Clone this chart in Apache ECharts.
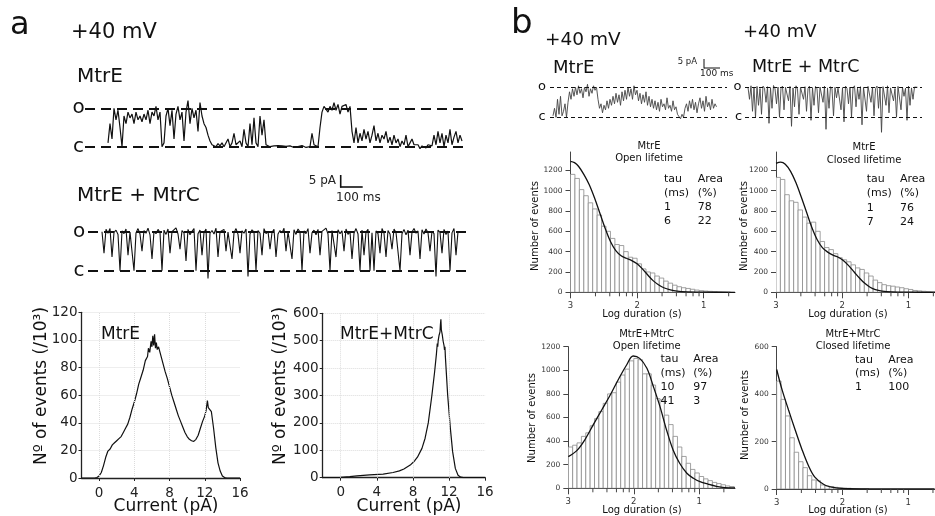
<!DOCTYPE html>
<html><head><meta charset="utf-8">
<script src="https://cdn.jsdelivr.net/npm/echarts@6/dist/echarts.min.js"></script>
<style>html,body{margin:0;padding:0;background:#fff}#c{width:935px;height:516px}</style>
</head><body><div id="c"></div>
<script>
// ---------- DATA ----------
// single-channel traces, % of open level (0 = closed "c", 100 = open "o")
const traceMtrE_a = [10,60,20,100,
70,95,50,0,80, 60,90,75,85,60, 90,70,80,65,85, 70,95,60,90,80, 105,70,90,0,10,
80,100,55,95,20, 85,105,70,90,15, 90,120,60,100,75, 95,40,115,80,60, 50,30,15,5,10,
0,8,2,10,0, 5,20,0,10,35, 5,0,15,0,45, 10,0,60,5,75, 10,0,80,30,70,
5,10,0,5,2, 0,3,-2,2,0, 1,-3,2,0,-2, 2,0,-3,3,0, -2,2,0,35,5,
10,0,50,90,105, 110,90,105,95,115, 95,110,85,105,100, 110,90,105,40,10, 50,10,35,15,45,
20,40,10,30,55, 15,35,10,30,20, 40,10,25,5,30, 10,20,0,15,5, 30,0,10,20,5,
0,5,-5,2,0, -3,5,0,2,30, 5,40,10,35,0, 30,10,45,5,25, 40,10,30,15];
const traceMtrEC_a = [100,45,106,96,108,35,98,104,93,0,
102,95,107,40,99,104,0,97,108,94, 50,103,96,109,92,30,101,95,106,98,
0,104,93,107,45,100,96,110,94,55, 103,97,25,106,92,101,108,0,95,104,
40,98,107,-20,96,103,94,109,35,100, 95,106,50,99,104,30,97,108,93,45,
102,96,107,-15,94,105,99,0,103,96, 40,108,95,101,55,98,106,35,94,103,
97,109,50,100,96,30,105,93,107,99, 0,102,95,108,45,97,104,92,106,40,
101,96,109,94,0,103,98,35,105,95, 102,50,107,93,100,30,96,108,94,0,
104,40,99,106,0,97,0,102,95,45, 108,96,35,103,94,55,107,98,101,0,
95,106,92,104,40,99,108,96,102,30, 105,94,107,97,50,101,95,-15,104,98,
45,106,93,102,0,97,108,40,100,104, 98];
const traceMtrE_b = [5,30,0,60,10,70,5,20,45,0,
50,85,60,95,70,100,75,105,80,95, 65,100,85,110,70,95,80,105,90,100,
60,30,45,15,40,25,55,30,60,40, 70,45,80,50,75,40,85,55,90,60,
100,70,95,60,105,75,90,55,80,45, 75,50,85,40,70,35,60,30,55,25,
50,20,60,35,45,25,65,30,40,20, 55,25,35,10,5,-5,10,0,30,45,
20,55,30,60,25,50,15,45,65,30, 55,20,70,35,50,25,60,30,45,35];
const traceMtrEC_b = [100,60,105,20,98,0,103,40,96,10,
104,97,50,102,-20,99,30,106,95,45, 101,0,97,104,25,100,96,55,103,-30,
98,35,105,94,10,100,97,60,102,20, 96,104,-10,99,40,103,95,15,101,97,
50,104,-40,98,30,102,95,5,100,65, 97,103,25,99,-15,104,96,45,101,0,
98,105,35,97,60,102,-25,100,95,20, 103,98,50,101,5,96,104,30,99,-50,
102,97,40,105,15,98,101,55,96,0, 103,99,25,100,70,97,-10,104,40,98,
60,101,95,100];

// all-points amplitude histograms: [current (pA), events /10^3]
const ampMtrE = [[-2,0],[-0.5,0],[-0.25,0.3],[0,1.5],[0.25,4],[0.5,9],[0.75,15],[1,19.5],[1.25,21],[1.5,24],
[1.75,25.5],[2,27],[2.25,28.5],[2.5,30],[2.75,33],[3,36],[3.25,39],[3.5,44],[3.75,50],[4,55],[4.25,61],
[4.5,68],[4.75,73],[5,78],[5.25,85],[5.5,88],[5.6,94],[5.75,91],[5.9,99],[6,95],[6.1,103],[6.2,96],
[6.3,104],[6.4,94],[6.5,98],[6.6,93],[6.75,95],[7,89],[7.25,83],[7.5,77],[7.75,72],[8,66],[8.25,60],
[8.5,55],[8.75,50],[9,45],[9.25,41],[9.5,37],[9.75,33],[10,30],[10.25,28],[10.5,27],[10.75,26.5],
[11,28],[11.25,31],[11.5,36],[11.75,41],[12,45],[12.15,49],[12.3,56],[12.4,51],[12.6,52],[12.75,48],
[13,36],[13.25,22],[13.5,11],[13.75,5],[14,1.5],[14.25,0.3],[14.5,0],[16,0]];
const ampMtrEC = [[-2,0],[-0.5,0],[0,1],[1,4],[1.8,7],[3.2,10],[4.7,13],[5.8,19],[6.5,25],[7,32],[7.7,46],
[8.2,62],[8.5,75],[9,107],[9.35,144],[9.7,200],[10.1,300],[10.4,385],[10.6,450],[10.7,490],[10.75,478],
[10.8,500],[10.9,520],[11,532],[11.05,560],[11.1,578],[11.15,540],[11.25,522],[11.35,498],[11.45,482],
[11.5,466],[11.55,478],[11.6,440],[11.85,302],[12.15,180],[12.4,95],[12.7,34],[13,9],[13.3,2],[13.6,0],[16,0]];
const ampXTicks = [0,4,8,12,16];

// dwell-time histograms (15 bins per log unit, first bin starts at 3)
const binStart = 3, binWidth = 1/15;
const logTicks = [3,2,1];
const logMinorTicks = [2.625,2.41,2.265,2.16,2.07,1.625,1.41,1.265,1.16,1.07,0.625];
const openMtrE = [1160,1120,1010,950,880,820,760,650,600,530,470,460,400,345,335,280,230,200,190,160,140,110,90,70,55,45,38,30,22,16,12,9,6,4,3,2];
const openMtrEFit = [[3,1288],[2.94,1275],[2.88,1240],[2.8,1160],[2.72,1060],[2.64,930],[2.56,780],[2.48,630],[2.4,500],[2.32,410],[2.24,360],[2.16,335],[2.08,312],[2,280],[1.92,230],[1.84,170],[1.76,115],[1.68,75],[1.6,45],[1.5,24],[1.4,12],[1.25,5],[1,1],[0.53,0]];
const closedMtrE = [1130,1110,960,900,885,810,740,680,690,600,500,440,420,380,340,320,300,270,240,225,190,160,120,95,75,65,60,52,45,35,28,18,14,10,8,6];
const closedMtrEFit = [[3,1268],[2.93,1280],[2.86,1260],[2.78,1190],[2.7,1080],[2.62,940],[2.54,790],[2.46,640],[2.38,520],[2.3,440],[2.22,395],[2.14,365],[2.06,345],[1.98,310],[1.9,260],[1.82,200],[1.74,140],[1.66,88],[1.58,50],[1.5,26],[1.4,12],[1.25,4],[1,1],[0.6,0]];
const openMtrEC = [350,365,385,440,470,530,590,650,720,800,810,900,960,1010,1080,1100,1090,970,970,875,760,750,620,540,440,350,270,212,160,130,100,80,65,50,40,30,20,15];
const openMtrECFit = [[3,268],[2.87,319],[2.75,409],[2.62,537],[2.49,664],[2.36,791],[2.24,918],[2.11,1045],[2.01,1121],[1.91,1101],[1.8,1017],[1.7,861],[1.6,692],[1.5,494],[1.4,325],[1.3,212],[1.19,127],[1.09,85],[0.99,56],[0.86,34],[0.74,17],[0.61,6],[0.455,3]];
const closedMtrEC = [455,378,308,216,155,115,90,56,38,35,17,13,10,7,5,4,3,2,2,1,1];
const closedMtrECFit = [[3,504],[2.92,420],[2.82,333],[2.72,250],[2.62,170],[2.52,100],[2.42,50],[2.27,17],[2.1,5],[1.9,1],[1.5,0],[0.6,0]];
const yTicks1200 = [0,200,400,600,800,1000,1200];
const yTicks600 = [0,200,400,600];

// fitted components tables
const tauOpenMtrE = ['1','6'], areaOpenMtrE = ['78','22'];
const tauClosedMtrE = ['1','7'], areaClosedMtrE = ['76','24'];
const tauOpenMtrEC = ['10','41'], areaOpenMtrEC = ['97','3'];
const tauClosedMtrEC = ['1'], areaClosedMtrEC = ['100'];

// ---------- CHART ----------
const FF = 'DejaVu Sans';
const chart = echarts.init(document.getElementById('c'), null, {renderer:'canvas'});
const G = [];
function T(text, x, y, size, align, extra, color){
  G.push(Object.assign({type:'text', x:x, y:y, silent:true, z:50,
    style:{text:text, fontSize:size, fontFamily:FF, fill:color||'#111',
      align:align||'left', verticalAlign:'middle', textAlign:align||'left', textVerticalAlign:'middle'}}, extra||{}));
}
function L(x1,y1,x2,y2,w){ G.push({type:'line', silent:true, z:50, shape:{x1:x1,y1:y1,x2:x2,y2:y2}, style:{stroke:'#111', lineWidth:w}}); }

// panel a texts
T('a', 10, 26, 32);
T('+40 mV', 71, 33, 21);
T('MtrE', 77, 77, 20);
T('o', 78.5, 108, 20, 'center'); T('c', 78.5, 147, 20, 'center');
T('MtrE + MtrC', 77, 196, 20);
T('o', 79, 232, 20, 'center'); T('c', 79, 271, 20, 'center');
T('5 pA', 336, 181, 12, 'right', null, '#222'); T('100 ms', 336, 198, 12, 'left', null, '#222');
L(340.7,175,340.7,187.5,1.6); L(340,187,362.7,187,1.6);
T('MtrE', 101, 335, 17);
T('MtrE+MtrC', 340, 335, 17);
T('N\u00ba of events (/10\u00b3)', 41.5, 386, 17, 'center', {rotation:Math.PI/2});
T('N\u00ba of events (/10\u00b3)', 280.5, 386, 17, 'center', {rotation:Math.PI/2});
T('Current (pA)', 166, 507, 17, 'center');
T('Current (pA)', 409, 507, 17, 'center');

// panel b texts
T('b', 511, 24, 34);
T('+40 mV', 545, 40, 18.5);
T('+40 mV', 743, 32, 18);
T('MtrE', 553, 68, 18);
T('MtrE + MtrC', 752, 67, 17.5);
T('o', 542, 87, 13, 'center'); T('c', 542, 117, 13, 'center');
T('o', 737.5, 87, 13, 'center'); T('c', 738.5, 117, 13, 'center');
T('5 pA', 697, 62, 8.5, 'right', null, '#222'); T('100 ms', 700, 74, 9, 'left', null, '#222');
L(704,59,704,68.5,1); L(704,68,720,68,1);

function dwellTexts(cx, t1, t2, t1y, t2y, xTau, xArea, rows, taus, areas, yl, xl, xly){
  T(t1, cx, t1y, 10, 'center'); T(t2, cx, t2y, 10, 'center');
  T('tau', xTau, rows[0], 11); T('Area', xArea, rows[0], 11);
  T('(ms)', xTau, rows[1], 11); T('(%)', xArea, rows[1], 11);
  for (let i=0;i<taus.length;i++){ T(taus[i], xTau, rows[2+i], 11); T(areas[i], xArea, rows[2+i], 11); }
  T('Number of events', yl[0], yl[1], 10, 'center', {rotation:Math.PI/2});
  T('Log duration (s)', xl, xly, 10, 'center');
}
dwellTexts(649, 'MtrE', 'Open lifetime', 146.5, 158.5, 664, 697.7, [179.3,193.3,207.3,221], tauOpenMtrE, areaOpenMtrE, [535,226], 642, 314);
dwellTexts(864, 'MtrE', 'Closed lifetime', 147, 160, 866.7, 900, [179.3,193.3,207.7,221.7], tauClosedMtrE, areaClosedMtrE, [744,226], 848, 314);
dwellTexts(646.7, 'MtrE+MtrC', 'Open lifetime', 334, 346.5, 660.5, 693.3, [358.8,373,387.2,400.8], tauOpenMtrEC, areaOpenMtrEC, [532,418], 642, 510);
dwellTexts(853, 'MtrE+MtrC', 'Closed lifetime', 334, 346.5, 855, 888.3, [360,373.3,387.3], tauClosedMtrEC, areaClosedMtrEC, [745,415], 848, 510);

const grids = [
  {left:85, top:96.8, width:383, height:61.4},
  {left:88, top:220, width:380, height:62.4},
  {left:81.5, top:312.3, width:158.5, height:165.7},
  {left:322.7, top:313.3, width:162.4, height:164.4},
  {left:550, top:78.3, width:177, height:57},
  {left:745, top:78.3, width:177, height:57},
  {left:570.5, top:152, width:164.5, height:140.3},
  {left:776, top:152, width:159, height:140.3},
  {left:568.3, top:346.7, width:166.7, height:141.6},
  {left:776.7, top:346.7, width:158.3, height:142.3}
].map(g=>Object.assign({containLabel:false, outerBoundsMode:'none'}, g));

const xAxes = [], yAxes = [];
function hiddenAxis(arr, gi, min, max){ arr.push({type:'value', gridIndex:gi, min:min, max:max, show:false}); }
hiddenAxis(xAxes,0,-11.5,180); hiddenAxis(yAxes,0,-30,130);
hiddenAxis(xAxes,1,-7,183); hiddenAxis(yAxes,1,-30,130);
const plain = v => String(v);
const ampAxisX = (gi)=>({type:'value', gridIndex:gi, min:-2, max:16,
  axisLine:{show:true, onZero:false, lineStyle:{color:'#222', width:1.3}},
  axisTick:{show:true, length:3, customValues:ampXTicks, lineStyle:{color:'#222'}},
  axisLabel:{show:true, customValues:ampXTicks, fontSize:13.5, fontFamily:FF, color:'#222', margin:8, formatter:plain},
  splitLine:{show:false}});
const ampAxisY = (gi,max,iv)=>({type:'value', gridIndex:gi, min:0, max:max, interval:iv,
  axisLine:{show:true, onZero:false, lineStyle:{color:'#222', width:1.3}},
  axisTick:{show:true, length:3, lineStyle:{color:'#222'}},
  axisLabel:{fontSize:13.5, fontFamily:FF, color:'#222', margin:4, formatter:plain},
  splitLine:{show:true, lineStyle:{color:'#dcdcdc', type:'dotted', width:1}}});
xAxes.push(ampAxisX(2)); yAxes.push(ampAxisY(2,120,20));
xAxes.push(ampAxisX(3)); yAxes.push(ampAxisY(3,600,100));
hiddenAxis(xAxes,4,-2,116); hiddenAxis(yAxes,4,-60,130);
hiddenAxis(xAxes,5,-2,116); hiddenAxis(yAxes,5,-60,130);
const dwellX = (gi,min)=>({type:'value', gridIndex:gi, min:min, max:3, inverse:true, position:'bottom',
  axisLine:{show:true, onZero:false, lineStyle:{color:'#444', width:1}},
  axisTick:{show:true, length:6, customValues:logTicks, lineStyle:{color:'#444'}},
  axisLabel:{show:true, customValues:logTicks, fontSize:8.5, fontFamily:FF, color:'#333', margin:9, formatter:plain},
  splitLine:{show:false}});
const dwellY = (gi,max,ticks)=>({type:'value', gridIndex:gi, min:0, max:max,
  axisLine:{show:true, onZero:false, lineStyle:{color:'#444', width:1}},
  axisTick:{show:true, length:5, customValues:ticks, lineStyle:{color:'#444'}},
  axisLabel:{show:true, customValues:ticks, fontSize:7.5, fontFamily:FF, color:'#333', margin:8, formatter:plain},
  splitLine:{show:false}});
xAxes.push(dwellX(6,0.53)); yAxes.push(dwellY(6,1380,yTicks1200));
xAxes.push(dwellX(7,0.6)); yAxes.push(dwellY(7,1380,yTicks1200));
xAxes.push(dwellX(8,0.455)); yAxes.push(dwellY(8,1200,yTicks1200));
xAxes.push(dwellX(9,0.594)); yAxes.push(dwellY(9,600,yTicks600));

const series = [];
function trace(arr, ai, color, w, dash, dw){
  series.push({type:'line', xAxisIndex:ai, yAxisIndex:ai, data:arr.map((v,i)=>[i,v]),
    showSymbol:false, symbol:'none', lineStyle:{color:color, width:w}, animation:false, z:3,
    markLine:{silent:true, symbol:['none','none'], label:{show:false}, animation:false,
      lineStyle:{color:'#111', type:dash, width:dw}, data:[{yAxis:100},{yAxis:0}]}});
}
trace(traceMtrE_a, 0, '#111', 1.2, [10,6], 2);
trace(traceMtrEC_a, 1, '#111', 1.1, [10,6], 2);
const vGrid = {silent:true, symbol:['none','none'], label:{show:false}, animation:false,
  lineStyle:{color:'#dcdcdc', type:'dotted', width:1}, data:[{xAxis:0},{xAxis:4},{xAxis:8},{xAxis:12}]};
series.push({type:'line', xAxisIndex:2, yAxisIndex:2, data:ampMtrE, showSymbol:false, symbol:'none',
  lineStyle:{color:'#111', width:1.2}, animation:false, markLine:vGrid});
series.push({type:'line', xAxisIndex:3, yAxisIndex:3, data:ampMtrEC, showSymbol:false, symbol:'none',
  lineStyle:{color:'#111', width:1.2}, animation:false, markLine:vGrid});
trace(traceMtrE_b, 4, '#444', 0.9, [4,3], 1);
trace(traceMtrEC_b, 5, '#444', 0.9, [4,3], 1);

function dwell(ai, counts, fit){
  series.push({type:'custom', xAxisIndex:ai, yAxisIndex:ai, clip:true, animation:false,
    data:counts.map((c,i)=>[binStart - i*binWidth, binStart - (i+1)*binWidth, c]),
    encode:{x:[0,1], y:2},
    renderItem:function(params, api){
      const p0 = api.coord([api.value(0), api.value(2)]);
      const p1 = api.coord([api.value(1), 0]);
      return {type:'rect', shape:{x:Math.min(p0[0],p1[0]), y:p0[1], width:Math.abs(p1[0]-p0[0]), height:p1[1]-p0[1]},
        style:{fill:'#fff', stroke:'#8a8a8a', lineWidth:0.8}};
    }});
  series.push({type:'line', xAxisIndex:ai, yAxisIndex:ai, data:fit, smooth:0.35, showSymbol:false, symbol:'none',
    clip:true, lineStyle:{color:'#111', width:1.3}, animation:false, z:4});
  // minor log ticks under the x axis
  series.push({type:'custom', xAxisIndex:ai, yAxisIndex:ai, clip:false, silent:true, animation:false, z:5,
    data:logMinorTicks.map(v=>[v,0]), encode:{x:0, y:1},
    renderItem:function(params, api){
      const p = api.coord([api.value(0), 0]);
      return {type:'line', shape:{x1:p[0], y1:p[1], x2:p[0], y2:p[1]+4}, style:{stroke:'#444', lineWidth:1}};
    }});
}
dwell(6, openMtrE, openMtrEFit);
dwell(7, closedMtrE, closedMtrEFit);
dwell(8, openMtrEC, openMtrECFit);
dwell(9, closedMtrEC, closedMtrECFit);

chart.setOption({
  animation:false, backgroundColor:'#fff',
  textStyle:{fontFamily:FF},
  grid:grids, xAxis:xAxes, yAxis:yAxes, series:series, graphic:G
});
</script></body></html>
